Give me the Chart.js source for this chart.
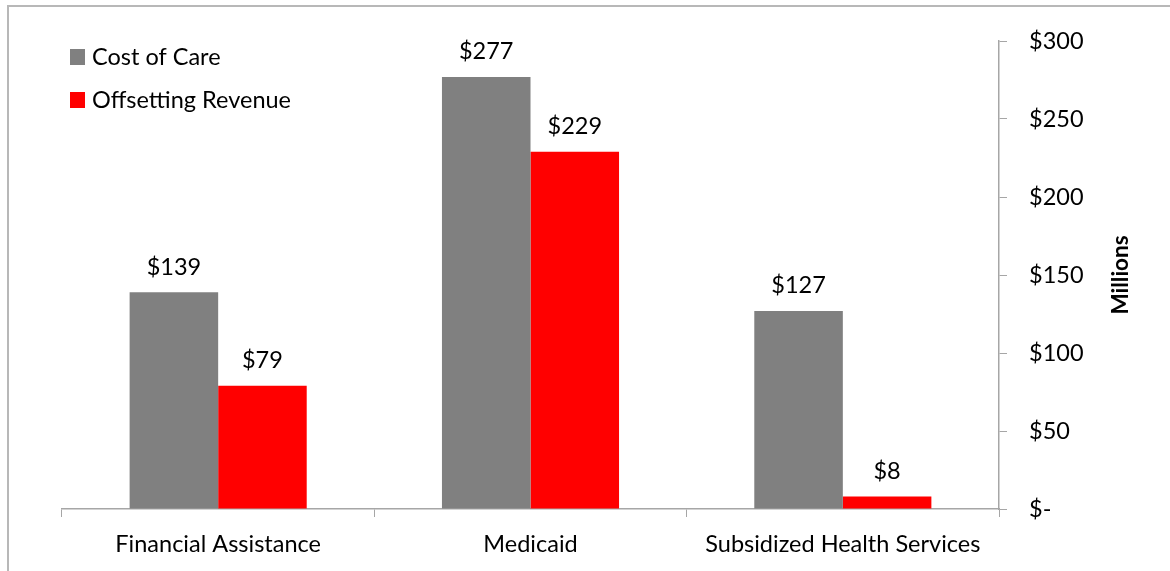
<!DOCTYPE html>
<html lang="en">
  <head>
    <meta charset="UTF-8" />
    <title>Cost of Care vs Offsetting Revenue</title>
    <style>
      html, body { margin: 0; padding: 0; background: #fff; }
      .frame {
        position: absolute;
        left: 7px;
        top: 5px;
        width: 1170px;
        height: 571px;
        border-left: 2px solid #b8b8b8;
        border-top: 2px solid #b8b8b8;
      }
      .wrap { position: absolute; left: 0; top: 0; width: 1170px; height: 571px; }
    </style>
  </head>
  <body>
    <div class="frame"></div>
    <div class="wrap"><canvas id="myChart"></canvas></div>

    <script src="https://cdn.jsdelivr.net/npm/chart.js@4/dist/chart.umd.min.js"></script>
    <script>
      var categories = ["Financial Assistance", "Medicaid", "Subsidized Health Services"];
      var seriesNames = ["Cost of Care", "Offsetting Revenue"];
      var costOfCare = [139, 277, 127];
      var offsettingRevenue = [79, 229, 8];
      var seriesColors = ["#808080", "#ff0000"];
      var yTicks = [0, 50, 100, 150, 200, 250, 300];
      var axisTitle = "Millions";

      var FONT = "Lato, 'Open Sans', sans-serif";
      var FS = 23.5;

      function money(v) {
        return v === 0 ? "$-" : "$" + v;
      }

      // value labels, legend in the plot corner, and the rotated axis title
      var extras = {
        id: "extras",
        afterDatasetsDraw: function (chart) {
          var ctx = chart.ctx;
          ctx.save();
          ctx.fillStyle = "#000";
          ctx.font = FS + "px " + FONT;
          ctx.textAlign = "center";
          ctx.textBaseline = "middle";
          chart.data.datasets.forEach(function (ds, i) {
            chart.getDatasetMeta(i).data.forEach(function (bar, j) {
              ctx.fillText(money(ds.data[j]), bar.x, bar.y - 25);
            });
          });

          // legend
          ctx.textAlign = "left";
          chart.data.datasets.forEach(function (ds, i) {
            var y = 57 + i * 43;
            ctx.fillStyle = ds.backgroundColor;
            ctx.fillRect(70, y - 8, 15, 16);
            ctx.fillStyle = "#000";
            ctx.fillText(ds.label, 92, y);
          });

          // y axis title
          var area = chart.chartArea;
          ctx.font = "bold 22.5px " + FONT;
          ctx.textAlign = "center";
          ctx.translate(1121, (area.top + area.bottom) / 2);
          ctx.rotate(-Math.PI / 2);
          ctx.fillText(axisTitle, 0, 0);
          ctx.restore();
        },
      };

      var axisColor = "#a6a6a6";

      new Chart(document.getElementById("myChart"), {
        type: "bar",
        data: {
          labels: categories,
          datasets: [
            { label: seriesNames[0], data: costOfCare, backgroundColor: seriesColors[0] },
            { label: seriesNames[1], data: offsettingRevenue, backgroundColor: seriesColors[1] },
          ],
        },
        options: {
          responsive: true,
          maintainAspectRatio: false,
          animation: false,
          categoryPercentage: 0.567,
          barPercentage: 1.0,
          layout: { padding: { left: 62, top: 41, right: 0, bottom: 0 } },
          plugins: {
            legend: { display: false },
            tooltip: { enabled: false },
          },
          scales: {
            x: {
              grid: {
                display: true,
                drawOnChartArea: false,
                drawTicks: true,
                tickLength: 8,
                color: axisColor,
                offset: true,
              },
              border: { display: true, color: axisColor, width: 1.5 },
              ticks: {
                color: "#000",
                padding: 13,
                font: { family: FONT, size: FS },
                maxRotation: 0,
              },
              afterFit: function (scale) { scale.height = 62; },
            },
            y: {
              position: "right",
              min: 0,
              max: 300,
              afterBuildTicks: function (scale) {
                scale.ticks = yTicks.map(function (v) { return { value: v }; });
              },
              grid: {
                display: true,
                drawOnChartArea: false,
                drawTicks: true,
                tickLength: 8,
                color: axisColor,
              },
              border: { display: true, color: axisColor, width: 1.5 },
              ticks: {
                color: "#000",
                padding: 22,
                font: { family: FONT, size: FS },
                callback: function (v) { return money(v); },
              },
              afterFit: function (scale) { scale.width = 171; },
            },
          },
        },
        plugins: [extras],
      });
    </script>
  </body>
</html>
